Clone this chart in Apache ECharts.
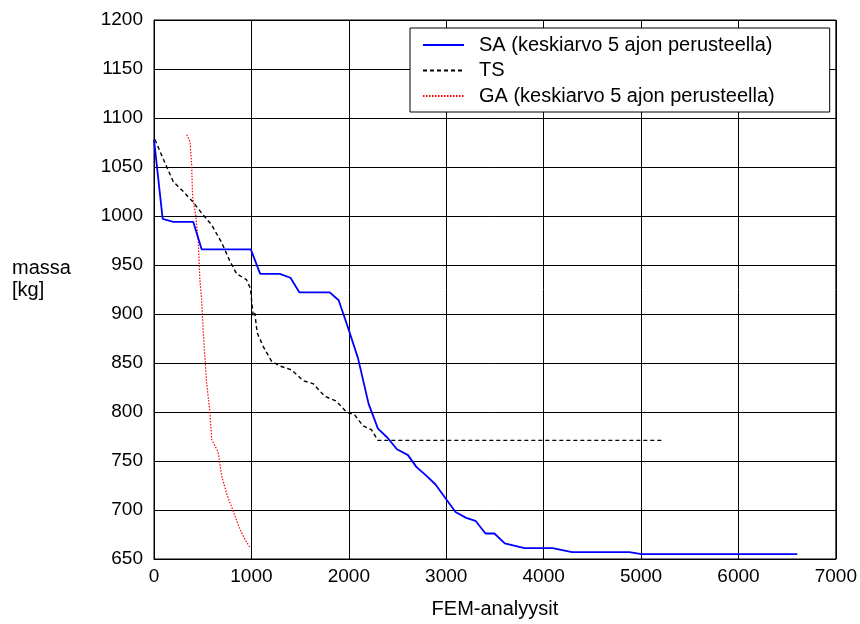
<!DOCTYPE html>
<html>
<head>
<meta charset="utf-8">
<script src="https://cdn.jsdelivr.net/npm/echarts@6/dist/echarts.min.js"></script>
<style>
  html, body { margin: 0; padding: 0; background: #fff; }
  #chart { width: 860px; height: 624px; }
</style>
</head>
<body>
<div id="chart"></div>
<script>
var chartDom = document.getElementById('chart');
var myChart = echarts.init(chartDom);

// SA (mean of 5 runs)
var saX = [0, 89, 198, 403, 489, 994, 1090, 1291, 1401, 1493, 1804, 1896, 1999, 2094, 2204, 2299, 2395, 2494, 2607, 2693, 2795, 2890, 3000, 3095, 3205, 3300, 3403, 3495, 3601, 3803, 4093, 4291, 4879, 5005, 6604];
var saY = [1078, 997, 994, 994, 966, 966, 941, 941, 937, 922, 922, 914, 884, 855, 808, 783, 774, 762, 756, 744, 735, 726, 711, 698, 692, 689, 676, 676, 666, 661, 661, 657, 657, 655, 655];

// TS
var tsX = [10, 96, 198, 301, 403, 489, 591, 694, 779, 848, 950, 990, 1018, 1035, 1059, 1120, 1206, 1291, 1411, 1531, 1633, 1753, 1873, 1975, 2060, 2145, 2231, 2299, 5220];
var tsY = [1078, 1058, 1035, 1025, 1014, 1003, 991, 973, 954, 941, 935, 926, 898, 901, 881, 867, 852, 847, 843, 832, 829, 816, 811, 800, 797, 786, 782, 771, 771];

// GA (mean of 5 runs)
var gaX = [335, 369, 386, 396, 430, 455, 471, 489, 506, 540, 574, 592, 659, 694, 751, 813, 875, 933, 984];
var gaY = [1083, 1076, 1054, 1020, 1000, 973, 935, 915, 881, 830, 800, 772, 759, 735, 715, 699, 682, 670, 662];

var seriesNames = ['SA (keskiarvo 5 ajon perusteella)', 'TS', 'GA (keskiarvo 5 ajon perusteella)'];

function zip(xs, ys) {
  return xs.map(function (x, i) { return [x, ys[i]]; });
}

var fontFamily = 'Liberation Sans, Arial, sans-serif';

var option = {
  backgroundColor: '#fff',
  animation: false,
  grid: {
    left: 154,
    right: 23,
    top: 20,
    bottom: 64,
    show: true,
    borderColor: '#000',
    borderWidth: 1,
    backgroundColor: 'transparent'
  },
  legend: {
    orient: 'vertical',
    left: 410,
    top: 28,
    padding: [7, 55, 6, 12],
    itemGap: 5.5,
    itemWidth: 41,
    itemHeight: 20,
    backgroundColor: '#fff',
    borderColor: '#000',
    borderWidth: 1,
    borderRadius: 0,
    // hide the symbol dot, keep the line sample
    itemStyle: { opacity: 0 },
    textStyle: {
      fontFamily: fontFamily,
      fontSize: 20,
      color: '#000',
      padding: [0, 0, 0, 10]
    },
    data: seriesNames
  },
  xAxis: {
    type: 'value',
    min: 0,
    max: 7000,
    interval: 1000,
    name: 'FEM-analyysit',
    nameLocation: 'middle',
    nameGap: 40,
    nameTextStyle: { fontFamily: fontFamily, fontSize: 20, color: '#000' },
    axisLine: { onZero: false, lineStyle: { color: '#000', width: 1 } },
    axisTick: { inside: true, length: 5, lineStyle: { color: '#000' } },
    axisLabel: {
      fontFamily: fontFamily, fontSize: 19, color: '#000', margin: 8,
      formatter: function (v) { return String(v); }
    },
    splitLine: { show: true, lineStyle: { color: '#000', width: 1 } }
  },
  yAxis: {
    type: 'value',
    min: 650,
    max: 1200,
    interval: 50,
    axisLine: { show: true, lineStyle: { color: '#000', width: 1 } },
    axisTick: { show: true, inside: true, length: 5, lineStyle: { color: '#000' } },
    axisLabel: {
      fontFamily: fontFamily, fontSize: 19, color: '#000', margin: 11,
      formatter: function (v) { return String(v); }
    },
    splitLine: { show: true, lineStyle: { color: '#000', width: 1 } }
  },
  graphic: [
    {
      type: 'text',
      left: 12,
      top: 257,
      style: {
        text: 'massa\n[kg]',
        font: '20px ' + fontFamily,
        fill: '#000',
        lineHeight: 22
      }
    }
  ],
  series: [
    {
      name: seriesNames[0],
      type: 'line',
      showSymbol: false,
      symbol: 'none',
      lineStyle: { color: '#0000ff', width: 1.8, type: 'solid' },
      itemStyle: { color: '#0000ff' },
      data: zip(saX, saY),
      z: 4
    },
    {
      name: seriesNames[1],
      type: 'line',
      showSymbol: false,
      symbol: 'none',
      lineStyle: { color: '#000', width: 1.4, type: [4, 3] },
      itemStyle: { color: '#000' },
      data: zip(tsX, tsY),
      z: 3
    },
    {
      name: seriesNames[2],
      type: 'line',
      showSymbol: false,
      symbol: 'none',
      lineStyle: { color: '#ff0000', width: 1.2, type: [1.5, 1.5] },
      itemStyle: { color: '#ff0000' },
      data: zip(gaX, gaY),
      z: 2
    }
  ]
};

option && myChart.setOption(option);
</script>
</body>
</html>
